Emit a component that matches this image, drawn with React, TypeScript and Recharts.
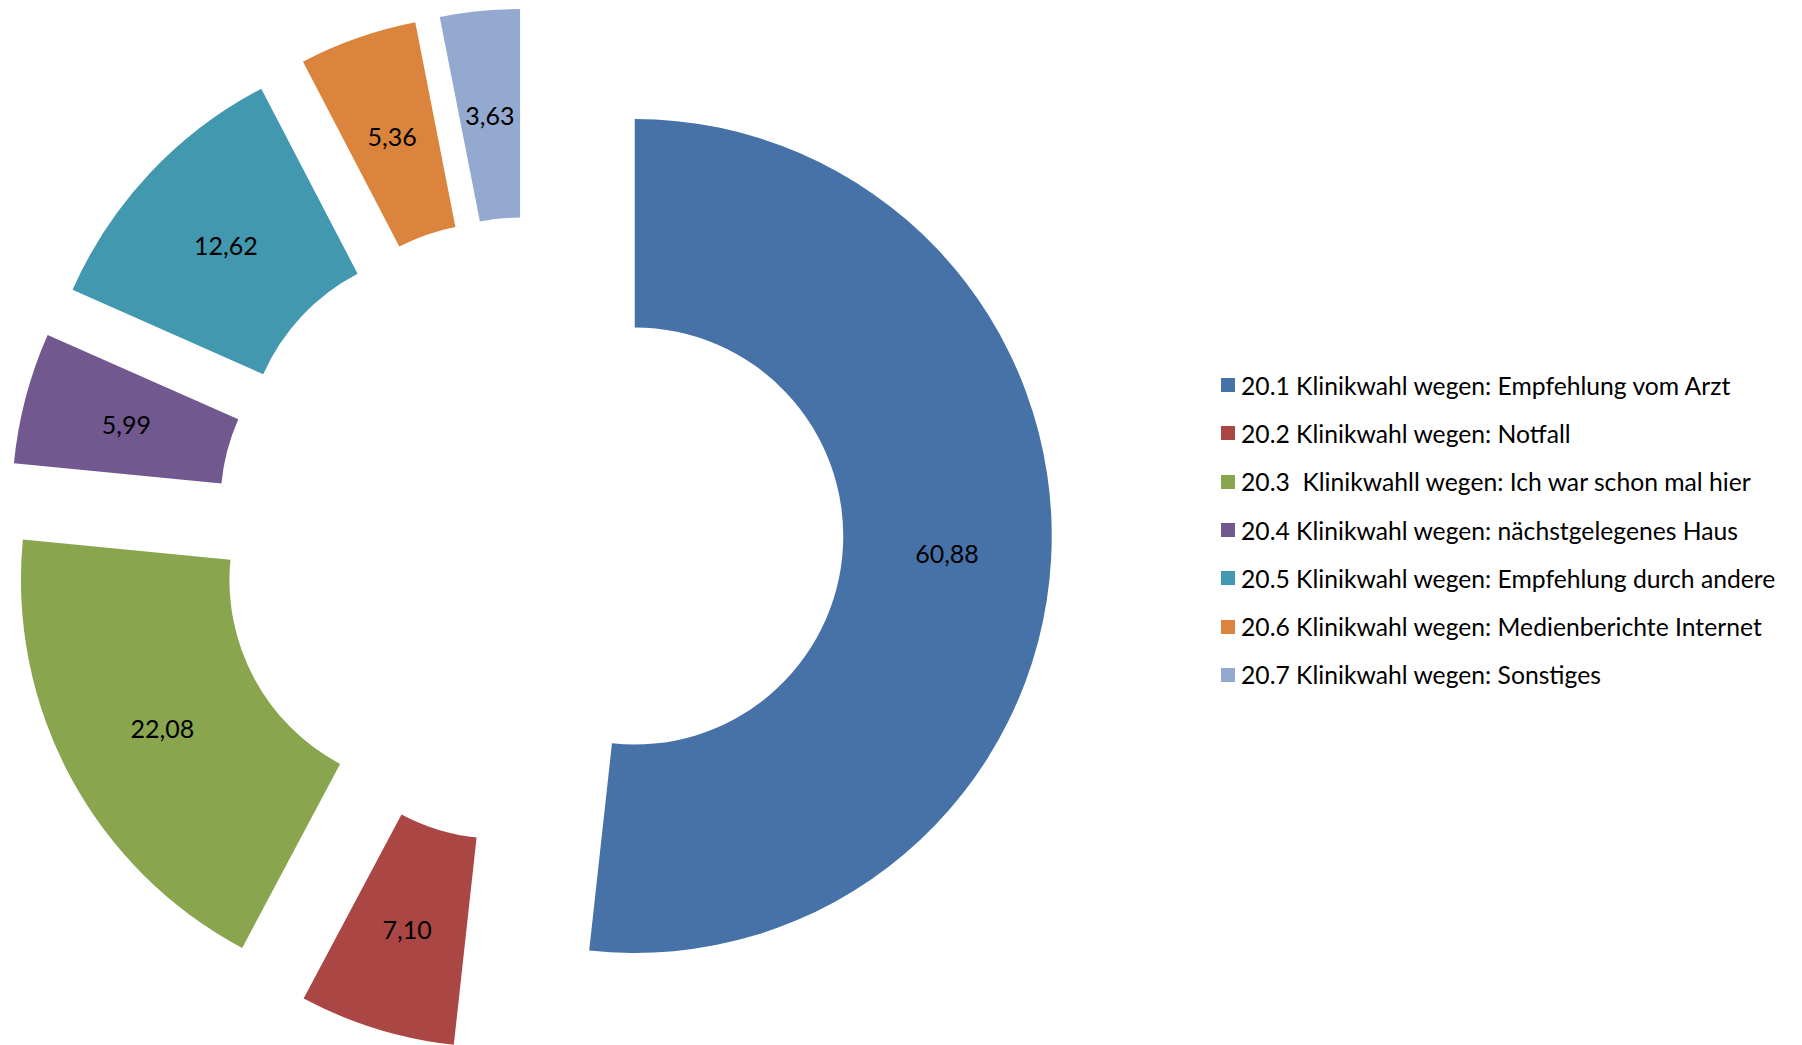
import React from "react";
import { PieChart, Pie, Cell, Legend, Sector } from "recharts";

const categories = [
  "20.1 Klinikwahl wegen: Empfehlung vom Arzt",
  "20.2 Klinikwahl wegen: Notfall",
  "20.3  Klinikwahll wegen: Ich war schon mal hier",
  "20.4 Klinikwahl wegen: nächstgelegenes Haus",
  "20.5 Klinikwahl wegen: Empfehlung durch andere",
  "20.6 Klinikwahl wegen: Medienberichte Internet",
  "20.7 Klinikwahl wegen: Sonstiges",
];

const values = [60.88, 7.1, 22.08, 5.99, 12.62, 5.36, 3.63];

const COLORS = ["#4672A8", "#AA4643", "#89A54E", "#71588F", "#4198AF", "#DB843D", "#93A9CF"];

const FONT = 'Lato, "Open Sans", sans-serif';
const EXPLODE = 104.7;
const RADIAN = Math.PI / 180;

const chartData = categories.map((name, i) => ({ name, value: values[i] }));

// every slice is pushed out along its own bisector
function ExplodedSector(props: any) {
  const { cx, cy, midAngle, innerRadius, outerRadius, startAngle, endAngle, fill } = props;
  const dx = EXPLODE * Math.cos(-midAngle * RADIAN);
  const dy = EXPLODE * Math.sin(-midAngle * RADIAN);
  return (
    <Sector
      cx={cx + dx}
      cy={cy + dy}
      innerRadius={innerRadius}
      outerRadius={outerRadius}
      startAngle={startAngle}
      endAngle={endAngle}
      fill={fill}
      stroke="none"
    />
  );
}

function renderLabel(props: any) {
  const { cx, cy, midAngle, innerRadius, outerRadius, value } = props;
  const r = (innerRadius + outerRadius) / 2 + EXPLODE;
  const x = cx + r * Math.cos(-midAngle * RADIAN);
  const y = cy + r * Math.sin(-midAngle * RADIAN);
  return (
    <text
      x={x}
      y={y}
      textAnchor="middle"
      dominantBaseline="central"
      fill="#000"
      style={{ fontSize: 25, fontFamily: FONT }}
    >
      {Number(value).toFixed(2).replace(".", ",")}
    </text>
  );
}

function LegendContent({ payload }: any) {
  return (
    <div style={{ fontFamily: FONT, fontSize: 24.7, color: "#000" }}>
      {(payload ?? []).map((p: any, i: number) => (
        <div key={i} style={{ height: 48.3, display: "flex", alignItems: "center", whiteSpace: "pre" }}>
          <span style={{ width: 14, height: 14, background: p.color, display: "inline-block", marginRight: 6 }} />
          <span>{p.value}</span>
        </div>
      ))}
    </div>
  );
}

export default function App() {
  return (
    <div style={{ position: "absolute", left: 0, top: 0, width: 1802, height: 1045, background: "#fff" }}>
      <PieChart width={1802} height={1045} margin={{ top: 0, right: 0, bottom: 0, left: 0 }}>
        <Pie
          data={chartData}
          dataKey="value"
          nameKey="name"
          cx={530.2}
          cy={530.3}
          innerRadius={208.5}
          outerRadius={417}
          startAngle={90}
          endAngle={-270}
          stroke="none"
          shape={ExplodedSector}
          label={renderLabel}
          labelLine={false}
          isAnimationActive={false}
        >
          {chartData.map((_, i) => (
            <Cell key={i} fill={COLORS[i]} />
          ))}
        </Pie>
        <Legend
          content={<LegendContent />}
          wrapperStyle={{ position: "absolute", left: 1221, top: 361, width: 580, height: 340 }}
        />
      </PieChart>
    </div>
  );
}
